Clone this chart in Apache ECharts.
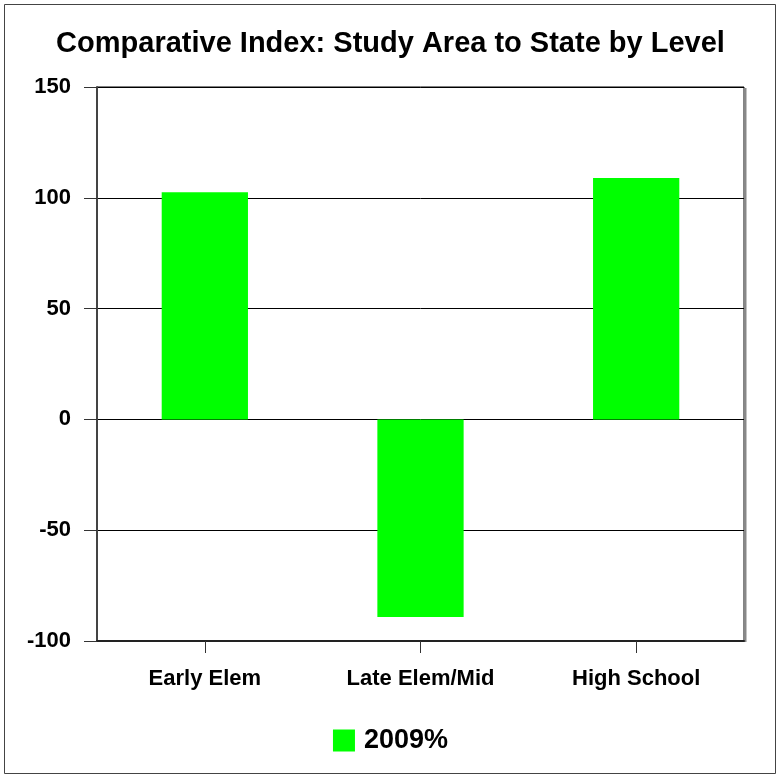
<!DOCTYPE html>
<html><head><meta charset="utf-8">
<script src="https://cdn.jsdelivr.net/npm/echarts@6/dist/echarts.min.js"></script>
<style>html,body{margin:0;padding:0;background:#fff}#c{width:781px;height:778px}</style>
</head><body><div id="c"></div>
<script>
const categories = ["Early Elem", "Late Elem/Mid", "High School"];
const values2009 = [102.5, -89.2, 108.9];
const seriesName = "2009%";
const yTicks = [-100, -50, 0, 50, 100, 150];

const chart = echarts.init(document.getElementById('c'), null, {renderer: 'canvas'});
const font = '"Liberation Sans", Arial, sans-serif';
chart.setOption({
  animation: false,
  backgroundColor: '#fff',
  title: {
    text: 'Comparative Index: Study Area to State by Level',
    left: 'center', top: 24,
    textStyle: {fontFamily: font, fontWeight: 'bold', fontSize: 29, color: '#000'}
  },
  legend: {
    data: [seriesName], left: 'center', top: 722,
    itemWidth: 22, itemHeight: 22, itemGap: 8,
    icon: 'rect',
    textStyle: {fontFamily: font, fontWeight: 'bold', fontSize: 27, color: '#000', padding: [0, 0, 0, 4]}
  },
  grid: {left: 97, right: 37, top: 87, bottom: 137, show: true, borderColor: '#000', borderWidth: 1, backgroundColor: 'transparent'},
  xAxis: {
    type: 'category', data: categories,
    position: 'bottom',
    axisLine: {onZero: false, lineStyle: {color: '#222', width: 2}},
    axisTick: {show: true, alignWithLabel: true, length: 12, lineStyle: {color: '#333'}},
    axisLabel: {margin: 27, fontFamily: font, fontWeight: 'bold', fontSize: 22, color: '#000'}
  },
  yAxis: {
    type: 'value', min: yTicks[0], max: yTicks[yTicks.length-1], interval: 50,
    axisLine: {show: true, lineStyle: {color: '#444', width: 2}},
    axisTick: {show: true, length: 13, lineStyle: {color: '#333'}},
    axisLabel: {margin: 26, fontFamily: font, fontWeight: 'bold', fontSize: 22, color: '#000'},
    splitLine: {show: true, lineStyle: {color: '#000', width: 1}}
  },
  series: [{
    name: seriesName, type: 'bar', data: values2009,
    barCategoryGap: '60%',
    itemStyle: {color: '#00ff00'}
  }],
  graphic: [
    {type: 'rect', shape: {x: 4.5, y: 4.5, width: 771, height: 769}, style: {fill: 'none', stroke: '#444', lineWidth: 1}, silent: true},
    {type: 'line', shape: {x1: 745, y1: 88, x2: 745, y2: 642}, style: {stroke: '#888', lineWidth: 3}, silent: true}
  ]
});
</script></body></html>
